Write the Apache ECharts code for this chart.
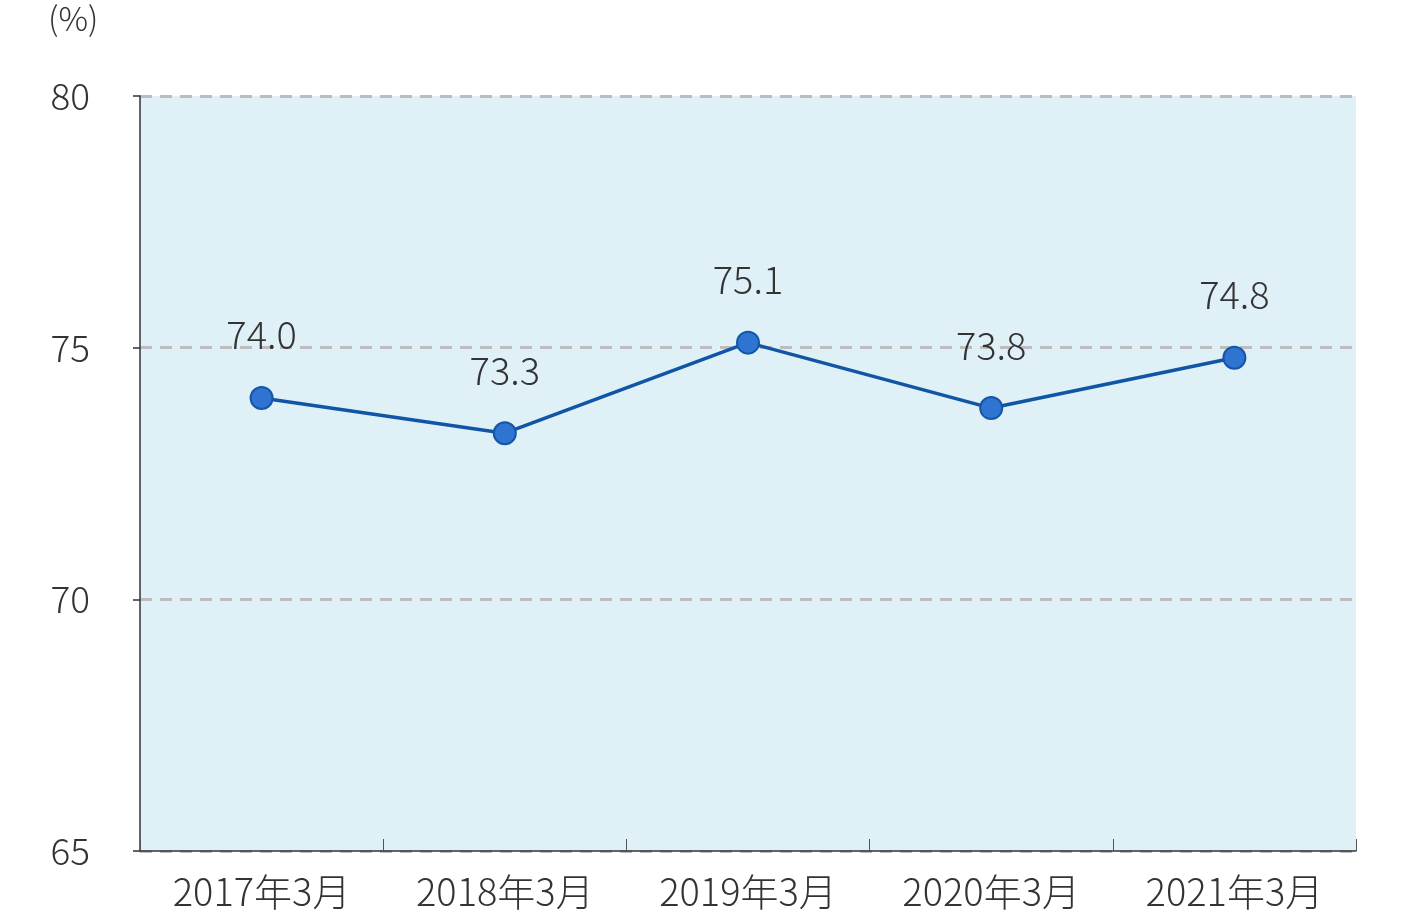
<!DOCTYPE html>
<html>
<head>
<meta charset="utf-8">
<script src="https://cdn.jsdelivr.net/npm/echarts@6/dist/echarts.min.js"></script>
<style>
html,body{margin:0;padding:0;background:#fff;}
#c{width:1420px;height:918px;}
</style>
</head>
<body>
<div id="c"></div>
<script>
const categories = ['2017年3月', '2018年3月', '2019年3月', '2020年3月', '2021年3月'];
const values = [74.0, 73.3, 75.1, 73.8, 74.8];
const yTicks = [65, 70, 75, 80];
const unitLabel = '(%)';

const FONT = '"Noto Sans CJK JP", "Noto Sans", sans-serif';
const chart = echarts.init(document.getElementById('c'), null, {renderer: 'canvas'});
chart.setOption({
  animation: false,
  backgroundColor: '#ffffff',
  grid: {
    left: 140, right: 64, top: 96, bottom: 67,
    show: true, backgroundColor: '#dff0f7', borderWidth: 0
  },
  graphic: [{
    type: 'text', left: 48, top: 2,
    style: {text: unitLabel, font: '300 33px ' + FONT, fill: '#333'}
  }],
  xAxis: {
    type: 'category',
    data: categories,
    boundaryGap: true,
    axisLine: {show: true, lineStyle: {color: '#333', width: 1.5}},
    axisTick: {show: true, inside: true, length: 12, alignWithLabel: false, lineStyle: {color: '#555', width: 1}},
    axisLabel: {color: '#333', fontFamily: FONT, fontSize: 38, fontWeight: 300, margin: 22},
    splitLine: {show: false}
  },
  yAxis: {
    type: 'value',
    min: yTicks[0], max: yTicks[yTicks.length - 1], interval: 5,
    axisLine: {show: true, lineStyle: {color: '#333', width: 1.5}},
    axisTick: {show: true, inside: false, length: 7, lineStyle: {color: '#333', width: 1.5}},
    axisLabel: {color: '#333', fontFamily: FONT, fontSize: 37, fontWeight: 300, margin: 50, padding: [0, 0, 11, 0]},
    splitLine: {show: true, lineStyle: {color: '#bdbdbd', width: 3, type: [12, 8]}}
  },
  series: [{
    type: 'line',
    data: values,
    symbol: 'circle',
    symbolSize: 22,
    z: 5,
    lineStyle: {color: '#1155a5', width: 3.5},
    itemStyle: {color: '#2f74d0', borderColor: '#1456a8', borderWidth: 2},
    label: {
      show: true, position: 'top', distance: 32,
      formatter: p => p.value.toFixed(1),
      color: '#333', fontFamily: FONT, fontSize: 38, fontWeight: 300
    }
  }]
});
</script>
</body>
</html>
